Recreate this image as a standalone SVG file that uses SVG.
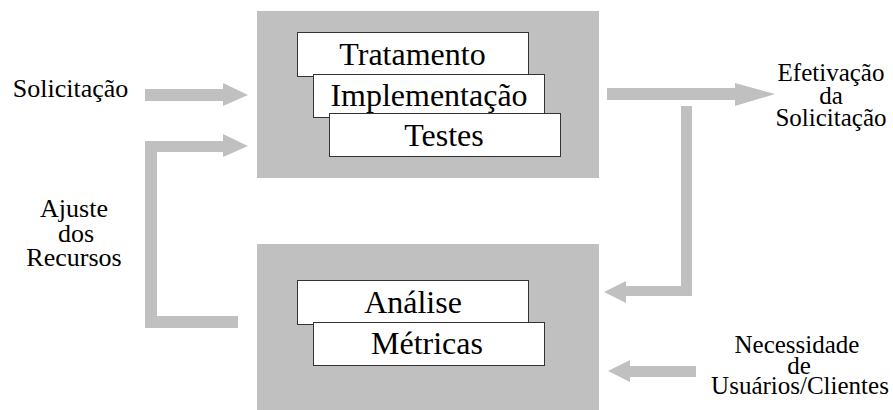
<svg xmlns="http://www.w3.org/2000/svg" width="893" height="410" viewBox="0 0 893 410">
<style>
.panel{fill:#c0c0c0}
.card{fill:#fff;stroke:#333;stroke-width:1}
.arrow{fill:#c0c0c0}
text{font-family:"Liberation Serif","Times New Roman",serif;fill:#000;text-anchor:middle}
.big{font-size:32px}
.lbl{font-size:26px}
.ml{font-size:25px}
</style>
<rect width="893" height="410" fill="#fff"/>
<g id="process-panel">
<rect class="panel" x="257" y="11" width="342" height="167"/>
<g id="tratamento"><rect class="card" x="297.5" y="32.5" width="231" height="44"/><text class="big" x="412.5" y="65">Tratamento</text></g>
<g id="implementacao"><rect class="card" x="313.5" y="74.5" width="231" height="43"/><text class="big" x="429" y="106">Implementação</text></g>
<g id="testes"><rect class="card" x="329.5" y="113.5" width="231" height="43"/><text class="big" x="444" y="146">Testes</text></g>
</g>
<g id="analysis-panel">
<rect class="panel" x="257" y="244" width="342" height="166"/>
<g id="analise"><rect class="card" x="297.5" y="280.5" width="231" height="44"/><text class="big" x="413" y="313">Análise</text></g>
<g id="metricas"><rect class="card" x="313.5" y="322.5" width="231" height="43"/><text class="big" x="427" y="354">Métricas</text></g>
</g>
<g id="connectors">
<polygon class="arrow" points="145,89 223,89 223,83 248,95 223,106 223,101 145,101"/>
<polygon class="arrow" points="238,316 157,316 157,152 223,152 223,157 248,146 223,134 223,141 145,141 145,328 238,328"/>
<polygon class="arrow" points="607,88 735,88 735,83 775,94 735,106 735,100 607,100"/>
<polygon class="arrow" points="681,106 692,106 692,296 626,296 626,303 604,292 626,281 626,286 681,286"/>
<polygon class="arrow" points="696,366 630,366 630,360 608,371 630,382 630,377 696,377"/>
</g>
<g id="label-solicitacao"><text class="lbl" x="70.5" y="97">Solicitação</text></g>
<g id="label-efetivacao"><text class="ml" x="831" y="81">Efetivação</text><text class="ml" x="831" y="104">da</text><text class="ml" x="831" y="126">Solicitação</text></g>
<g id="label-ajuste"><text class="lbl" x="74" y="217">Ajuste</text><text class="lbl" x="76" y="242">dos</text><text class="lbl" x="74" y="266">Recursos</text></g>
<g id="label-necessidade"><text class="ml" x="797" y="353">Necessidade</text><text class="ml" x="799" y="374">de</text><text class="ml" x="800" y="394">Usuários/Clientes</text></g>
</svg>
